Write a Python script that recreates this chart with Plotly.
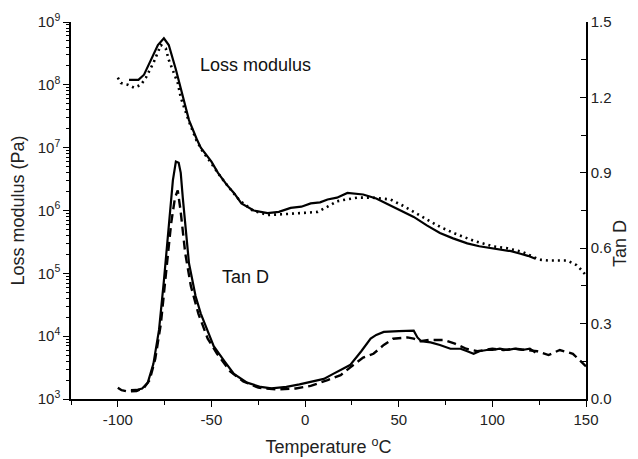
import plotly.graph_objects as go
import numpy as np

# Loss modulus, solid curve (x in degC, value in Pa)
lm1_x = [-94, -89, -86, -82.4, -78.6, -75.4, -72.8, -69, -65.3, -62, -58, -55.7, -50, -46.6, -42, -38, -34,
         -27.4, -20, -14, -7.7, -2, 3, 8, 12, 17, 22.6, 27, 31, 38, 45.6, 52, 58, 65, 72, 79, 86.6, 93, 100,
         105.8, 110, 115, 119, 123]
lm1_y = [1.2e8, 1.2e8, 1.45e8, 2.5e8, 4.3e8, 5.5e8, 4.3e8, 1.75e8, 6.3e7, 2.75e7, 1.4e7, 1.0e7, 6.0e6, 4.0e6,
         2.6e6, 1.9e6, 1.3e6, 1.0e6, 9.1e5, 9.5e5, 1.1e6, 1.15e6, 1.3e6, 1.35e6, 1.5e6, 1.6e6, 1.9e6, 1.85e6,
         1.8e6, 1.55e6, 1.2e6, 9.6e5, 7.9e5, 5.8e5, 4.4e5, 3.6e5, 3.0e5, 2.7e5, 2.5e5, 2.3e5, 2.25e5, 2.05e5,
         1.9e5, 1.7e5]

# Loss modulus, dotted curve
lm2_x = [-100, -98.4, -96, -94.6, -91.4, -87.7, -85, -80.8, -77, -74.4, -72.8, -70, -68, -66.4, -62, -58, -55,
         -50, -45, -40, -35, -28, -20, -12, -5, 0, 6.7, 12, 17, 22, 28, 36, 45.6, 52, 58, 65, 72, 80, 90, 100,
         108, 116, 125, 130, 135, 140, 145, 148, 150]
lm2_y = [1.3e8, 1.07e8, 1.02e8, 1.0e8, 9.0e7, 1.0e8, 1.3e8, 2.3e8, 4.3e8, 3.8e8, 2.5e8, 1.55e8, 1.07e8, 6.3e7,
         2.6e7, 1.3e7, 9.0e6, 5.6e6, 3.4e6, 2.2e6, 1.45e6, 1.0e6, 8.5e5, 8.7e5, 9.0e5, 9.0e5, 9.5e5, 1.15e6,
         1.4e6, 1.5e6, 1.6e6, 1.6e6, 1.5e6, 1.2e6, 9.5e5, 7.2e5, 5.5e5, 4.3e5, 3.3e5, 2.7e5, 2.5e5, 2.2e5,
         1.65e5, 1.6e5, 1.6e5, 1.6e5, 1.35e5, 1.1e5, 9.2e4]

# Tan D, solid curve
td1_x = [-93, -90, -87, -84, -81, -78, -75.4, -72.8, -70.6, -69, -67.5, -66.4, -65.3, -62, -58.5, -55.7, -52,
         -48.8, -43, -38, -31, -23.7, -18, -10, -3, 3, 10, 15, 20, 24, 30, 35, 38, 42, 50, 56, 58, 60, 62, 67,
         72, 77.6, 83, 86.6, 90, 93, 97, 100, 104, 108, 112, 116, 120, 123]
td1_y = [0.035, 0.036, 0.042, 0.065, 0.14, 0.275, 0.47, 0.67, 0.87, 0.945, 0.94, 0.9, 0.8, 0.54, 0.41, 0.34,
         0.27, 0.21, 0.15, 0.10, 0.065, 0.048, 0.042, 0.048, 0.058, 0.068, 0.08, 0.1, 0.12, 0.135, 0.19, 0.24,
         0.255, 0.267, 0.27, 0.27, 0.272, 0.245, 0.23, 0.225, 0.215, 0.2, 0.2, 0.19, 0.18, 0.19, 0.195, 0.195,
         0.2, 0.195, 0.2, 0.195, 0.2, 0.185]

# Tan D, dashed curve
td2_x = [-100, -98, -95, -90, -86, -83, -80, -77, -74, -71.5, -69.5, -68, -66.5, -64, -61, -57, -52, -47, -40,
         -33, -25, -15, -5, 3, 12, 19, 24, 31, 36.5, 42, 47, 54.6, 58, 61.5, 66, 74, 80, 86, 92, 100, 106, 112,
         118, 124, 130, 136, 143, 146, 148.5, 150]
td2_y = [0.045, 0.035, 0.03, 0.032, 0.045, 0.075, 0.16, 0.3, 0.52, 0.7, 0.8, 0.83, 0.75, 0.58, 0.45, 0.34,
         0.24, 0.18, 0.11, 0.07, 0.045, 0.038, 0.042, 0.052, 0.075, 0.095, 0.125, 0.165, 0.18, 0.215, 0.24,
         0.245, 0.24, 0.23, 0.235, 0.235, 0.22, 0.2, 0.19, 0.2, 0.195, 0.2, 0.195, 0.19, 0.175, 0.195, 0.18,
         0.16, 0.14, 0.13]

x_ticks = [-100, -50, 0, 50, 100, 150]
x_minor = [-125, -75, -25, 25, 75, 125]
y_exps = [3, 4, 5, 6, 7, 8, 9]
y2_ticks = [0.0, 0.3, 0.6, 0.9, 1.2, 1.5]
y2_minor = [0.15, 0.45, 0.75, 1.05, 1.35]

FONT = "Arial, Liberation Sans, sans-serif"
BLK = "black"
TXT = "#222"

fig = go.Figure()
fig.add_trace(go.Scatter(x=lm1_x, y=lm1_y, mode="lines", line=dict(color=BLK, width=2.2), showlegend=False))
fig.add_trace(go.Scatter(x=lm2_x, y=lm2_y, mode="lines", line=dict(color=BLK, width=2.6, dash="2px,4px"),
                         showlegend=False))
fig.add_trace(go.Scatter(x=td1_x, y=td1_y, mode="lines", line=dict(color=BLK, width=2.2), yaxis="y2",
                         showlegend=False))
fig.add_trace(go.Scatter(x=td2_x, y=td2_y, mode="lines", line=dict(color=BLK, width=2.4, dash="9px,5px"),
                         yaxis="y2", showlegend=False))

y_major = [10.0 ** e for e in y_exps]
y_minor_vals = [m * 10.0 ** e for e in y_exps[:-1] for m in range(2, 10)]

ML, MR, MT, MB = 71, 52, 22, 60
pw, ph = 638 - ML - MR, 459 - MT - MB

fig.update_layout(
    width=638, height=459,
    margin=dict(l=ML, r=MR, t=MT, b=MB),
    paper_bgcolor="white", plot_bgcolor="white",
    font=dict(family=FONT, color=TXT, size=15),
    xaxis=dict(range=[-125, 150], showline=True, linecolor=BLK, linewidth=1.5, showgrid=False,
               zeroline=False, ticks="outside", ticklen=6, tickwidth=1.3, tickcolor=BLK, automargin=False,
               tickvals=x_ticks, ticktext=[str(v) for v in x_ticks], tickfont=dict(size=15),
               minor=dict(tickvals=x_minor, ticks="outside", ticklen=4, tickwidth=1.2, tickcolor=BLK),
               title=dict(text="Temperature <sup>o</sup>C", font=dict(size=18), standoff=14)),
    yaxis=dict(type="log", range=[3, 9], showline=True, linecolor=BLK, linewidth=1.5, showgrid=False,
               zeroline=False, ticks="outside", ticklen=6, tickwidth=1.3, tickcolor=BLK, automargin=False,
               tickvals=y_major, ticktext=["10<sup>%d</sup>" % e for e in y_exps], tickfont=dict(size=15),
               minor=dict(tickvals=y_minor_vals, ticks="outside", ticklen=3, tickwidth=1, tickcolor=BLK),
               title=dict(text="Loss modulus (Pa)", font=dict(size=18), standoff=8)),
    yaxis2=dict(overlaying="y", side="right", range=[0, 1.5], showline=True, linecolor=BLK, linewidth=1.5,
                showgrid=False, zeroline=False, ticks="inside", ticklen=6, tickwidth=1.3, tickcolor=BLK,
                automargin=False,
                tickvals=y2_ticks, ticktext=["%.1f" % v for v in y2_ticks], tickfont=dict(size=15),
                minor=dict(tickvals=y2_minor, ticks="inside", ticklen=5, tickwidth=1.2, tickcolor=BLK)),
    annotations=[
        dict(x=-26.4, y=8.316, xref="x", yref="y", text="Loss modulus", showarrow=False,
             font=dict(size=18, family=FONT, color="#111")),
        dict(x=-31.7, y=0.485, xref="x", yref="y2", text="Tan D", showarrow=False,
             font=dict(size=18, family=FONT, color="#111")),
        dict(x=(632 - ML) / pw, y=(459 - MB - 244) / ph, xref="paper", yref="paper", text="Tan D",
             showarrow=False, textangle=-90, font=dict(size=18, family=FONT, color=TXT)),
    ],
)

fig.write_html("out.html")
